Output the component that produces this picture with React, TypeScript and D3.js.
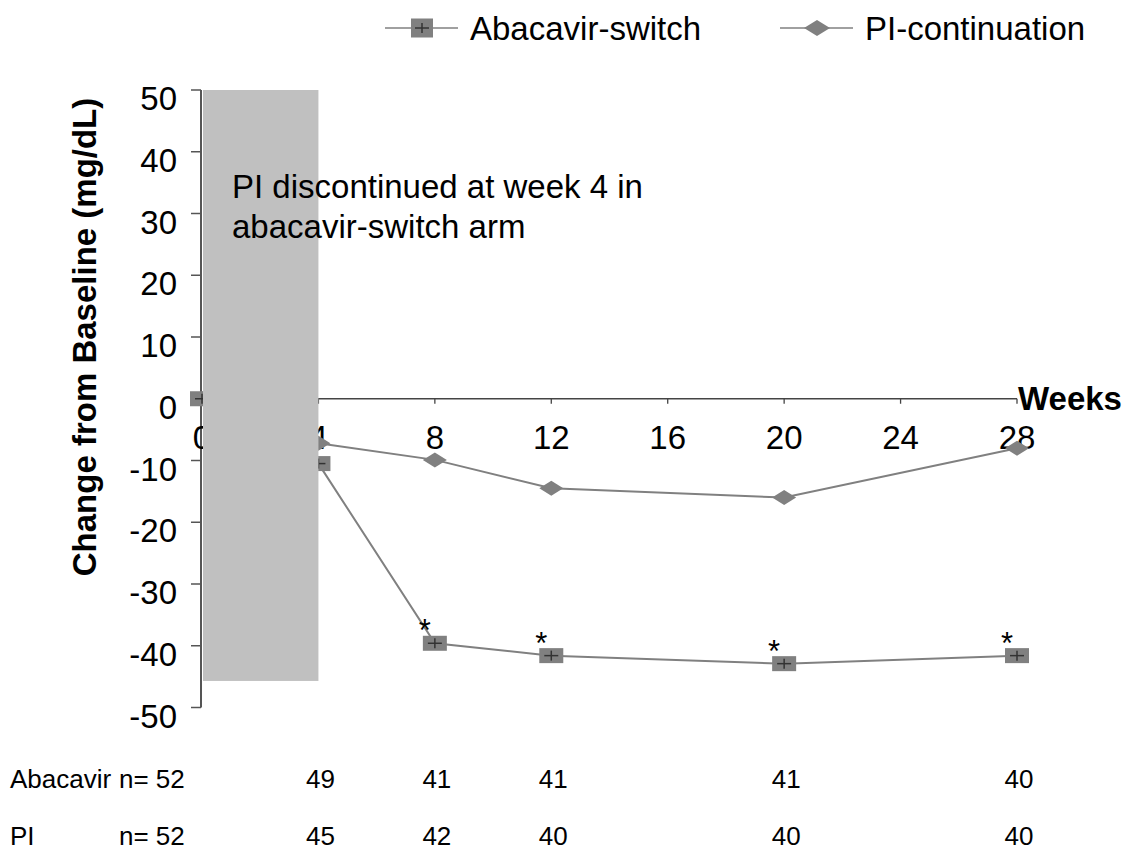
import React from "react";
import * as d3 from "d3";

const weeks = [0, 4, 8, 12, 20, 28];
const abacavirValues = [0, -10.5, -39.6, -41.6, -42.9, -41.6];
const piValues = [0, -7.2, -9.9, -14.5, -16.0, -8.0];
const xTickValues = [0, 4, 8, 12, 16, 20, 24, 28];
const yTickValues = [50, 40, 30, 20, 10, 0, -10, -20, -30, -40, -50];
const asteriskWeeks = [8, 12, 20, 28];
const abacavirN = ["52", "49", "41", "41", "41", "40"];
const piN = ["52", "45", "42", "40", "40", "40"];
const shadedWeeks = [0, 4];
const shadedRange = [50, -45.7];

const FONT = "'Liberation Sans', Arial, Helvetica, sans-serif";
const GRAY = "#808080";

export default function App() {
  const W = 1125;
  const H = 851;
  const x = d3.scaleLinear().domain([0, 28]).range([202, 1017]);
  const y = d3.scaleLinear().domain([-50, 50]).range([707.5, 90]);
  const line = d3
    .line<number>()
    .x((_, i) => x(weeks[i]))
    .y((d) => y(d));

  const square = (cx: number, cy: number, key: string, mw = 24, mh = 15) => (
    <g key={key}>
      <rect x={cx - mw / 2} y={cy - mh / 2} width={mw} height={mh} fill={GRAY} />
      <line x1={cx - 7} x2={cx + 7} y1={cy} y2={cy} stroke="#333" strokeWidth={1.5} />
      <line x1={cx} x2={cx} y1={cy - 5} y2={cy + 5} stroke="#333" strokeWidth={1.5} />
    </g>
  );
  const diamond = (cx: number, cy: number, key: string, mw = 24, mh = 15) => (
    <path
      key={key}
      d={`M${cx - mw / 2},${cy}L${cx},${cy - mh / 2}L${cx + mw / 2},${cy}L${cx},${cy + mh / 2}Z`}
      fill={GRAY}
    />
  );

  return (
    <svg width={W} height={H} style={{ position: "absolute", left: 0, top: 0, background: "#fff" }} fontFamily={FONT}>
      <rect x={0} y={0} width={W} height={H} fill="#fff" />
      {/* Legend */}
      <g>
        <line x1={385} x2={458} y1={28} y2={28} stroke="#a0a0a0" strokeWidth={2} />
        {square(422, 28, "lg1", 22, 19)}
        <text x={470} y={40} fontSize={33} fill="#000">Abacavir-switch</text>
        <line x1={780} x2={853} y1={28} y2={28} stroke="#a0a0a0" strokeWidth={2} />
        {diamond(817, 28, "lg2", 26, 16)}
        <text x={865} y={40} fontSize={33} fill="#000">PI-continuation</text>
      </g>

      {/* Y axis */}
      <line x1={201} x2={201} y1={y(50)} y2={y(-50)} stroke="#555" strokeWidth={2} />
      {yTickValues.map((v) => (
        <g key={"yt" + v}>
          <line x1={191} x2={201} y1={y(v)} y2={y(v)} stroke="#555" strokeWidth={1.5} />
          <text x={177} y={y(v) + 20} fontSize={33} textAnchor="end" fill="#000">
            {v}
          </text>
        </g>
      ))}
      <text
        transform={`translate(84,337) rotate(-90)`}
        textAnchor="middle"
        dominantBaseline="central"
        fontSize={33}
        fontWeight="bold"
        fill="#000"
      >
        Change from Baseline (mg/dL)
      </text>

      {/* X axis */}
      <line x1={x(0)} x2={x(28)} y1={y(0)} y2={y(0)} stroke="#444" strokeWidth={1.3} />
      {xTickValues.map((v) => (
        <g key={"xt" + v}>
          <line x1={x(v)} x2={x(v)} y1={y(0)} y2={y(0) + 5} stroke="#444" strokeWidth={1.3} />
          <text x={x(v)} y={y(0) + 50} fontSize={33} textAnchor="middle" fill="#000">
            {v}
          </text>
        </g>
      ))}
      <text x={1018} y={y(0) + 11} fontSize={33} fontWeight="bold" fill="#000">Weeks</text>

      {/* Series */}
      <path d={line(piValues) || ""} fill="none" stroke={GRAY} strokeWidth={2} />
      <path d={line(abacavirValues) || ""} fill="none" stroke={GRAY} strokeWidth={2} />
      {piValues.map((v, i) => diamond(x(weeks[i]), y(v), "pd" + i))}
      {abacavirValues.map((v, i) => square(x(weeks[i]), y(v), "as" + i))}

      {/* Asterisks */}
      {asteriskWeeks.map((w) => {
        const i = weeks.indexOf(w);
        return (
          <text key={"ast" + w} x={x(w) - 10} y={y(abacavirValues[i]) - 2} fontSize={31} textAnchor="middle" fill="#000">
            *
          </text>
        );
      })}

      {/* Shaded region */}
      <rect
        x={x(shadedWeeks[0]) + 1}
        y={y(shadedRange[0])}
        width={x(shadedWeeks[1]) - x(shadedWeeks[0]) - 1}
        height={y(shadedRange[1]) - y(shadedRange[0])}
        fill="#c0c0c0"
      />
      <text x={232} y={198} fontSize={33} fill="#000">PI discontinued at week 4 in</text>
      <text x={232} y={238} fontSize={33} fill="#000">abacavir-switch arm</text>

      {/* n table */}
      <text x={10} y={788} fontSize={26} fill="#000">Abacavir</text>
      <text x={10} y={845} fontSize={26} fill="#000">PI</text>
      <text x={119} y={788} fontSize={26} fill="#000">{"n= " + abacavirN[0]}</text>
      <text x={119} y={845} fontSize={26} fill="#000">{"n= " + piN[0]}</text>
      {weeks.slice(1).map((w, j) => (
        <g key={"n" + w}>
          <text x={x(w) + 2} y={788} fontSize={26} textAnchor="middle" fill="#000">{abacavirN[j + 1]}</text>
          <text x={x(w) + 2} y={845} fontSize={26} textAnchor="middle" fill="#000">{piN[j + 1]}</text>
        </g>
      ))}
    </svg>
  );
}
